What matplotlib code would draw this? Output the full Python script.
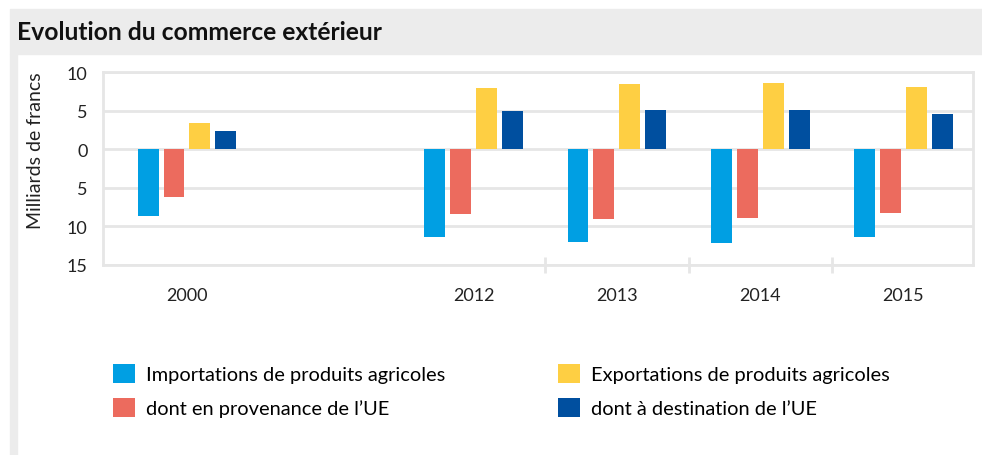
import matplotlib
matplotlib.use("Agg")
import matplotlib.pyplot as plt
from matplotlib.patches import Rectangle
import numpy as np

# --------------------------
# Data (milliards de francs)
# --------------------------
years = ["2000", "", "2012", "2013", "2014", "2015"]
imports_total = [-8.6, np.nan, -11.4, -12.0, -12.1, -11.4]
imports_ue = [-6.2, np.nan, -8.4, -9.0, -8.9, -8.3]
exports_total = [3.4, np.nan, 7.9, 8.4, 8.6, 8.1]
exports_ue = [2.3, np.nan, 5.0, 5.1, 5.1, 4.5]

series_labels = [
    "Importations de produits agricoles",
    "dont en provenance de l\u2019UE",
    "Exportations de produits agricoles",
    "dont \u00e0 destination de l\u2019UE",
]
colors = ["#009fe3", "#ec6b5e", "#fecf43", "#004f9f"]
y_ticks = [-15, -10, -5, 0, 5, 10]
y_tick_labels = ["15", "10", "5", "0", "5", "10"]

fam = ["Lato", "DejaVu Sans"]
grid_col = "#e6e6e6"
txt_col = "#222222"

# --------------------------
# Figure + background panels
# --------------------------
fig = plt.figure(figsize=(9.82, 4.56), dpi=100)
W, H = 982, 456
fig.patches.append(Rectangle((10 / W, 1 - 55 / H), 1, 45 / H, transform=fig.transFigure,
                             color="#ececec", zorder=0))
fig.patches.append(Rectangle((10 / W, 0), 7 / W, 1 - 55 / H, transform=fig.transFigure,
                             color="#ececec", zorder=0))
fig.text(17 / W, 1 - 40 / H, "Evolution du commerce ext\u00e9rieur", family=fam,
         fontsize=17.7, fontweight="bold", color="#111111", va="baseline", ha="left")

ax = fig.add_axes([103 / W, 1 - 266 / H, 870 / W, 193 / H])

# --------------------------
# Bars
# --------------------------
x = np.arange(len(years))
step, width = 0.181, 0.146
all_series = [imports_total, imports_ue, exports_total, exports_ue]
bars = []
for i, (vals, col) in enumerate(zip(all_series, colors)):
    b = ax.bar(x + (i - 1.5) * step, vals, width, color=col, zorder=3)
    bars.append(b)

# --------------------------
# Axes styling
# --------------------------
ax.set_ylim(-15, 10)
ax.set_xlim(-0.586, 5.485)
ax.set_yticks(y_ticks)
ax.set_yticklabels(y_tick_labels, family=fam, fontsize=13, color=txt_col)
ax.set_xticks([0, 2, 3, 4, 5])
ax.set_xticklabels([years[k] for k in [0, 2, 3, 4, 5]], family=fam, fontsize=13, color=txt_col)
ax.tick_params(axis="both", length=0)
ax.tick_params(axis="y", pad=11)
ax.tick_params(axis="x", pad=16)
ax.grid(axis="y", color=grid_col, linewidth=2, zorder=0)
for s in ax.spines.values():
    s.set_color(grid_col)
    s.set_linewidth(2)

# small separators between consecutive years
ax.vlines([2.5, 3.5, 4.5], -16, -14, color=grid_col, linewidth=2, clip_on=False)

ax.set_ylabel("Milliards de francs", family=fam, fontsize=14, color=txt_col)
ax.yaxis.set_label_coords(-0.068, 0.596)

# --------------------------
# Legend (two columns)
# --------------------------
common = dict(frameon=False, prop={"family": fam, "size": 14.4}, handlelength=1.1,
              handleheight=1.05, handletextpad=0.55, labelspacing=0.75,
              borderpad=0, borderaxespad=0, loc="upper left")
fig.legend([bars[0], bars[1]], series_labels[:2],
           bbox_to_anchor=(113 / W, 1 - 365 / H), **common)
fig.legend([bars[2], bars[3]], series_labels[2:],
           bbox_to_anchor=(558 / W, 1 - 365 / H), **common)

fig.savefig("out.png", dpi=100)
